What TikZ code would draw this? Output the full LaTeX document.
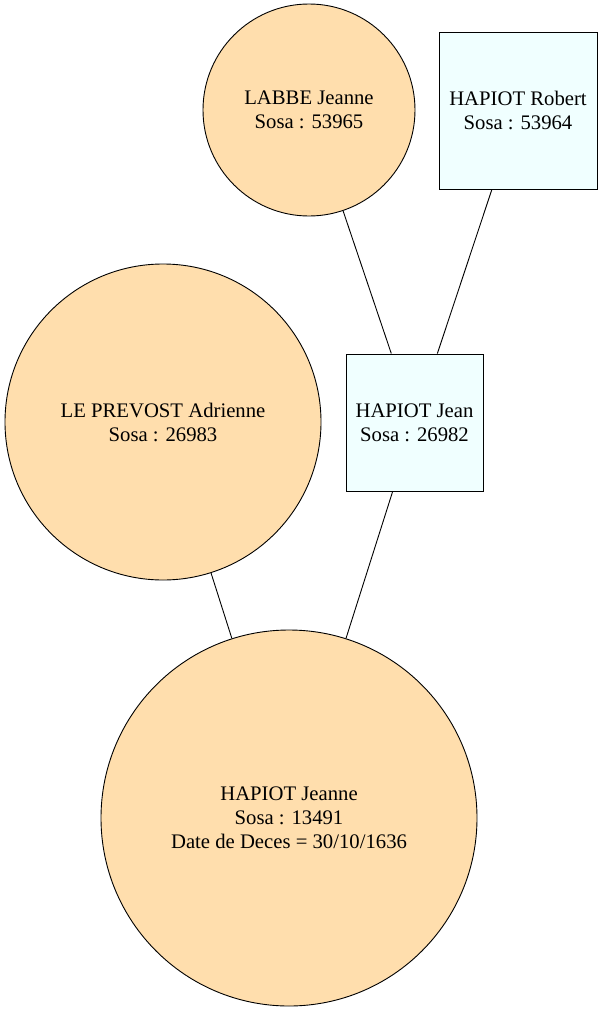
\documentclass[tikz,border=0pt]{standalone}
\usepackage{fontspec}
\setmainfont{Liberation Serif}
\definecolor{navajo}{HTML}{FFDEAD}
\definecolor{azurec}{HTML}{F0FFFF}
\begin{document}
\begin{tikzpicture}[x=1pt,y=-1pt,
  person/.style={draw=black,line width=0.9pt,align=center,inner sep=0pt,
    font=\fontsize{20.7}{24}\selectfont},
  female/.style={person,circle,fill=navajo},
  male/.style={person,rectangle,fill=azurec},
  link/.style={draw=black,line width=0.9pt}]
\useasboundingbox (0,0) rectangle (603,1012);
\node[female,minimum size=212pt] (labbe) at (309,110) {LABBE Jeanne\\Sosa : 53965};
\node[male,minimum width=158pt,minimum height=157pt] (robert) at (518,110.5) {HAPIOT Robert\\Sosa : 53964};
\node[male,minimum width=137pt,minimum height=137pt] (jean) at (414.5,422.5) {HAPIOT Jean\\Sosa : 26982};
\node[female,minimum size=316pt] (prevost) at (163,422) {LE PREVOST Adrienne\\Sosa : 26983};
\node[female,minimum size=376pt] (jeanne) at (289,818) {HAPIOT Jeanne\\Sosa : 13491\\Date de Deces = 30/10/1636};
\draw[link] (labbe) -- (jean);
\draw[link] (robert) -- (jean);
\draw[link] (prevost) -- (jeanne);
\draw[link] (jean) -- (jeanne);
\end{tikzpicture}
\end{document}
